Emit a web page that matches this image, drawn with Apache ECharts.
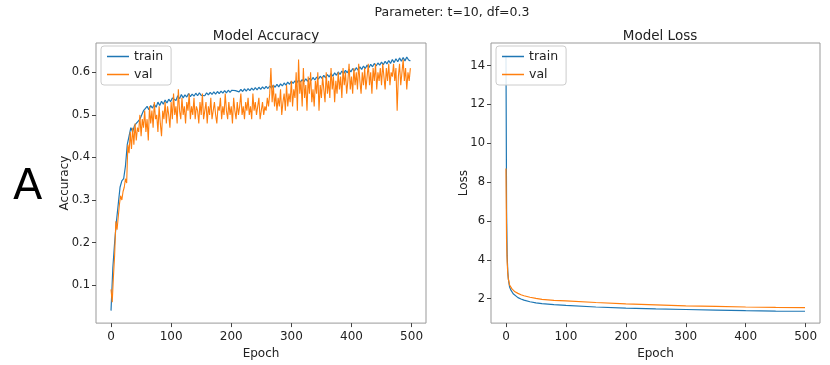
<!DOCTYPE html>
<html>
<head>
<meta charset="utf-8">
<script src="https://cdn.jsdelivr.net/npm/echarts@6/dist/echarts.min.js"></script>
<style>
  html, body { margin: 0; padding: 0; background: #fff; }
  #main { width: 830px; height: 365px; }
</style>
</head>
<body>
<div id="main"></div>
<script>
// train accuracy sampled every 3 epochs (0, 3, 6 ... 498)
var trainStep = 3;
var accTrain = [
    0.04, 0.14, 0.20, 0.25, 0.29, 0.33, 0.345, 0.35, 0.38, 0.43,
    0.45, 0.47, 0.46, 0.475, 0.48, 0.485, 0.49, 0.50, 0.51, 0.515,
    0.52, 0.512, 0.522, 0.516, 0.525, 0.518, 0.53, 0.522, 0.532, 0.525,
    0.535, 0.528, 0.537, 0.531, 0.54, 0.543, 0.534, 0.545, 0.538, 0.548,
    0.54, 0.547, 0.542, 0.55, 0.543, 0.549, 0.544, 0.551, 0.545, 0.552,
    0.546, 0.55, 0.545, 0.552, 0.547, 0.553, 0.548, 0.554, 0.549, 0.555,
    0.55, 0.556, 0.551, 0.557, 0.552, 0.558, 0.553, 0.558, 0.554, 0.557,
    0.559, 0.554, 0.56, 0.555, 0.561, 0.556, 0.562, 0.557, 0.563, 0.558,
    0.564, 0.559, 0.565, 0.56, 0.566, 0.561, 0.567, 0.562, 0.568, 0.563,
    0.57, 0.565, 0.572, 0.566, 0.573, 0.568, 0.575, 0.57, 0.577, 0.572,
    0.579, 0.574, 0.58, 0.575, 0.582, 0.577, 0.583, 0.578, 0.585, 0.579,
    0.586, 0.581, 0.588, 0.582, 0.589, 0.584, 0.591, 0.586, 0.593, 0.587,
    0.595, 0.589, 0.597, 0.591, 0.599, 0.593, 0.601, 0.595, 0.603, 0.597,
    0.605, 0.599, 0.607, 0.601, 0.609, 0.603, 0.611, 0.605, 0.613, 0.607,
    0.615, 0.609, 0.617, 0.611, 0.619, 0.613, 0.621, 0.615, 0.622, 0.617,
    0.624, 0.618, 0.626, 0.62, 0.628, 0.621, 0.63, 0.623, 0.632, 0.625,
    0.634, 0.626, 0.635, 0.627, 0.636, 0.629, 0.627
];
// val accuracy sampled every 2 epochs (0, 2, 4 ... 498)
var valStep = 2;
var accVal = [
    0.09, 0.06, 0.12, 0.17, 0.25, 0.23, 0.26, 0.29, 0.31, 0.30, 0.32, 0.33, 0.35, 0.34, 0.43,
    0.41, 0.46, 0.42, 0.47, 0.43, 0.48, 0.44, 0.47, 0.46, 0.50, 0.45, 0.49, 0.47, 0.51, 0.46,
    0.49, 0.44, 0.52, 0.48, 0.51, 0.47, 0.53, 0.49, 0.50, 0.46, 0.52, 0.48, 0.45, 0.51, 0.49, 0.53, 0.48, 0.52, 0.50, 0.47,
    0.53, 0.49, 0.55, 0.50, 0.52, 0.48, 0.56, 0.51, 0.49, 0.54, 0.50, 0.52, 0.48, 0.53, 0.51, 0.55, 0.49, 0.52, 0.50, 0.54,
    0.49, 0.52, 0.51, 0.48, 0.53, 0.50, 0.55, 0.49, 0.51, 0.53, 0.48, 0.52, 0.50, 0.54, 0.49, 0.51, 0.53, 0.50, 0.48, 0.52,
    0.51, 0.54, 0.49, 0.52, 0.50, 0.55, 0.51, 0.49, 0.53, 0.50, 0.52, 0.48, 0.54, 0.51, 0.49, 0.53, 0.50, 0.52, 0.55, 0.50,
    0.52, 0.49, 0.53, 0.51, 0.54, 0.50, 0.52, 0.49, 0.55, 0.51, 0.53, 0.50, 0.52, 0.54, 0.49, 0.51, 0.53, 0.50, 0.52, 0.51,
    0.54, 0.52, 0.55, 0.61, 0.53, 0.57, 0.52, 0.55, 0.51, 0.54, 0.52, 0.56, 0.50, 0.53, 0.55, 0.51, 0.57, 0.52, 0.55, 0.53,
    0.58, 0.52, 0.56, 0.54, 0.60, 0.51, 0.63, 0.55, 0.58, 0.52, 0.61, 0.54, 0.57, 0.51, 0.59, 0.55, 0.60, 0.53, 0.56, 0.52,
    0.58, 0.55, 0.60, 0.51, 0.57, 0.54, 0.59, 0.56, 0.53, 0.60, 0.55, 0.58, 0.54, 0.61, 0.56, 0.59, 0.53, 0.58, 0.55, 0.60,
    0.56, 0.59, 0.54, 0.61, 0.57, 0.60, 0.55, 0.58, 0.62, 0.56, 0.59, 0.55, 0.61, 0.57, 0.60, 0.56, 0.62, 0.58, 0.55, 0.60,
    0.57, 0.61, 0.56, 0.59, 0.62, 0.57, 0.60, 0.55, 0.61, 0.58, 0.62, 0.56, 0.60, 0.58, 0.61, 0.57, 0.62, 0.59, 0.56, 0.61,
    0.58, 0.62, 0.57, 0.60, 0.59, 0.62, 0.58, 0.61, 0.51, 0.59, 0.62, 0.57, 0.60, 0.63, 0.58, 0.61, 0.56, 0.60, 0.58, 0.61
];

// loss, read at uneven epochs (steep start)
var lossEpochs = [0, 1, 2, 3, 4, 5, 6, 8, 10, 12, 15, 20, 25, 30, 40, 50, 60, 80, 100, 150, 200, 250, 300, 350, 400, 450, 499];
var lossTrain = [14.5, 6.5, 4.2, 3.4, 3.0, 2.8, 2.6, 2.45, 2.35, 2.25, 2.15, 2.05, 1.98, 1.92, 1.84, 1.78, 1.74, 1.69, 1.65, 1.57, 1.51, 1.47, 1.44, 1.41, 1.38, 1.36, 1.35];
var lossVal = [8.7, 5.0, 3.9, 3.3, 3.0, 2.85, 2.7, 2.6, 2.5, 2.42, 2.35, 2.27, 2.2, 2.15, 2.07, 2.01, 1.96, 1.91, 1.88, 1.8, 1.73, 1.68, 1.63, 1.6, 1.57, 1.55, 1.54];

var BLUE = '#1f77b4', ORANGE = '#ff7f0e';
var FONT = 'DejaVu Sans';
var TXT = '#222';

function stepPairs(arr, step) {
    return arr.map(function (v, i) { return [i * step, v]; });
}
function zipPairs(xs, ys) {
    return ys.map(function (v, i) { return [xs[i], v]; });
}

function xAxisFor(idx) {
    return {
        type: 'value', gridIndex: idx, min: -25, max: 524, splitNumber: 5,
        name: 'Epoch', nameLocation: 'middle', nameGap: 17,
        nameTextStyle: {fontFamily: FONT, fontSize: 12, color: TXT},
        axisLine: {show: false, onZero: false},
        axisTick: {show: true, length: 4, lineStyle: {color: '#444'}},
        axisLabel: {fontFamily: FONT, fontSize: 12, color: TXT, margin: 8, showMinLabel: false, showMaxLabel: false},
        splitLine: {show: false}
    };
}

function yAxisFor(idx, lo, hi, split, title, gap, fmt) {
    return {
        type: 'value', gridIndex: idx, min: lo, max: hi, splitNumber: split,
        name: title, nameLocation: 'middle', nameGap: gap, nameMoveOverlap: false,
        nameTextStyle: {fontFamily: FONT, fontSize: 12, color: TXT},
        axisLine: {show: false, onZero: false},
        axisTick: {show: true, length: 4, lineStyle: {color: '#444'}},
        axisLabel: {fontFamily: FONT, fontSize: 11.5, color: TXT, margin: 6, showMinLabel: false, showMaxLabel: false,
            formatter: fmt},
        splitLine: {show: false}
    };
}

function legendAt(left) {
    return {
        data: ['train', 'val'], orient: 'vertical', left: left, top: 46,
        icon: 'rect', itemWidth: 22, itemHeight: 1.5, itemGap: 5,
        backgroundColor: 'rgba(255,255,255,0.85)', borderColor: '#ccc', borderWidth: 1, borderRadius: 3,
        padding: [4, 8, 4, 6],
        textStyle: {fontFamily: FONT, fontSize: 12.5, color: TXT}
    };
}

var chart = echarts.init(document.getElementById('main'));

chart.setOption({
    animation: false,
    backgroundColor: '#fff',
    title: [
        {text: 'Parameter: t=10, df=0.3', left: 447, top: 1, textAlign: 'center',
            textStyle: {fontFamily: FONT, fontSize: 12.5, fontWeight: 'normal', color: TXT}},
        {text: 'Model Accuracy', left: 261, top: 24, textAlign: 'center',
            textStyle: {fontFamily: FONT, fontSize: 13.5, fontWeight: 'normal', color: TXT}},
        {text: 'Model Loss', left: 655, top: 24, textAlign: 'center',
            textStyle: {fontFamily: FONT, fontSize: 13.5, fontWeight: 'normal', color: TXT}}
    ],
    graphic: [{
        type: 'text', left: 13, top: 166,
        style: {text: 'A', fontFamily: FONT, fontSize: 43, fill: '#000'}
    }],
    legend: [legendAt(101), legendAt(496)],
    grid: [
        {left: 96, right: 404, top: 43, bottom: 35, show: true, borderColor: '#999', borderWidth: 1},
        {left: 491, right: 10, top: 43, bottom: 36, show: true, borderColor: '#999', borderWidth: 1}
    ],
    xAxis: [xAxisFor(0), xAxisFor(1)],
    yAxis: [
        yAxisFor(0, 0.0107, 0.669, 6, 'Accuracy', 25, function (v) { return v.toFixed(1); }),
        yAxisFor(1, 0.74, 15.16, 7, 'Loss', 21, null)
    ],
    series: [
        {name: 'train', type: 'line', xAxisIndex: 0, yAxisIndex: 0, data: stepPairs(accTrain, trainStep),
            symbol: 'none', lineStyle: {color: BLUE, width: 1.2}, itemStyle: {color: BLUE}},
        {name: 'val', type: 'line', xAxisIndex: 0, yAxisIndex: 0, data: stepPairs(accVal, valStep),
            symbol: 'none', lineStyle: {color: ORANGE, width: 1.1}, itemStyle: {color: ORANGE}},
        {name: 'train', type: 'line', xAxisIndex: 1, yAxisIndex: 1, data: zipPairs(lossEpochs, lossTrain),
            symbol: 'none', lineStyle: {color: BLUE, width: 1.2}, itemStyle: {color: BLUE}},
        {name: 'val', type: 'line', xAxisIndex: 1, yAxisIndex: 1, data: zipPairs(lossEpochs, lossVal),
            symbol: 'none', lineStyle: {color: ORANGE, width: 1.2}, itemStyle: {color: ORANGE}}
    ]
});
</script>
</body>
</html>
